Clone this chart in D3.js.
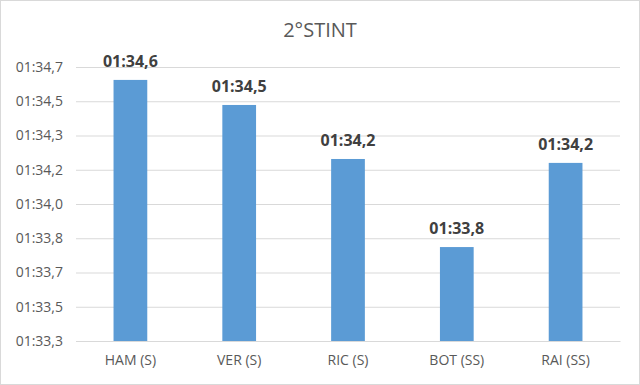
<!DOCTYPE html>
<html><head><meta charset="utf-8">
<script src="https://cdn.jsdelivr.net/npm/d3@7"></script>
<style>body{margin:0;background:#fff}svg{display:block}</style>
</head><body>
<script>
const categories = ["HAM (S)", "VER (S)", "RIC (S)", "BOT (SS)", "RAI (SS)"];
const lapSeconds = [94.634, 94.506, 94.23, 93.78, 94.21];
const valueLabels = ["01:34,6", "01:34,5", "01:34,2", "01:33,8", "01:34,2"];
const tickValues = [93.3, 93.475, 93.65, 93.825, 94.0, 94.175, 94.35, 94.525, 94.7];
const tickLabels = ["01:33,3", "01:33,5", "01:33,7", "01:33,8", "01:34,0", "01:34,2", "01:34,3", "01:34,5", "01:34,7"];
const title = "2°STINT";

const W = 640, H = 385;
const font = "'Open Sans', 'Liberation Sans', sans-serif";
const svg = d3.select("body").append("svg").attr("width", W).attr("height", H);
svg.append("rect").attr("x", 0.5).attr("y", 0.5).attr("width", W - 1).attr("height", H - 1)
  .attr("fill", "#fff").attr("stroke", "#d9d9d9");

const x = d3.scaleBand().domain(categories).range([76, 620]).paddingInner(0.69).paddingOuter(0.345);
const y = d3.scaleLinear().domain([93.3, 94.7]).range([341, 67]);

// gridlines
const yAxis = d3.axisLeft(y).tickValues(tickValues).tickSize(-(620 - 76))
  .tickFormat((d, i) => tickLabels[i]).tickPadding(13);
const gy = svg.append("g").attr("transform", "translate(76,0)").call(yAxis);
gy.select(".domain").remove();
gy.selectAll(".tick line").attr("stroke", "#d9d9d9");
gy.selectAll(".tick text").attr("fill", "#595959").style("font-family", font).style("font-size", "14px");

// bars
svg.selectAll("rect.bar").data(lapSeconds).enter().append("rect").attr("class", "bar")
  .attr("x", (d, i) => x(categories[i])).attr("width", x.bandwidth())
  .attr("y", d => y(d)).attr("height", d => y(93.3) - y(d))
  .attr("fill", "#5b9bd5");

// x axis
const xAxis = d3.axisBottom(x).tickSize(0).tickPadding(14);
const gx = svg.append("g").attr("transform", "translate(0,341)").call(xAxis);
gx.select(".domain").attr("stroke", "#d9d9d9");
gx.selectAll(".tick text").attr("fill", "#595959").style("font-family", font).style("font-size", "14px");

// data labels
svg.selectAll("text.vl").data(lapSeconds).enter().append("text").attr("class", "vl")
  .attr("x", (d, i) => x(categories[i]) + x.bandwidth() / 2)
  .attr("y", d => y(d) - 13)
  .attr("text-anchor", "middle").attr("fill", "#404040")
  .style("font-family", font).style("font-size", "16px").style("font-weight", "bold")
  .text((d, i) => valueLabels[i]);

svg.append("text").attr("x", 320).attr("y", 37).attr("text-anchor", "middle")
  .attr("fill", "#595959").style("font-family", font).style("font-size", "20px").text(title);
</script>
</body></html>
